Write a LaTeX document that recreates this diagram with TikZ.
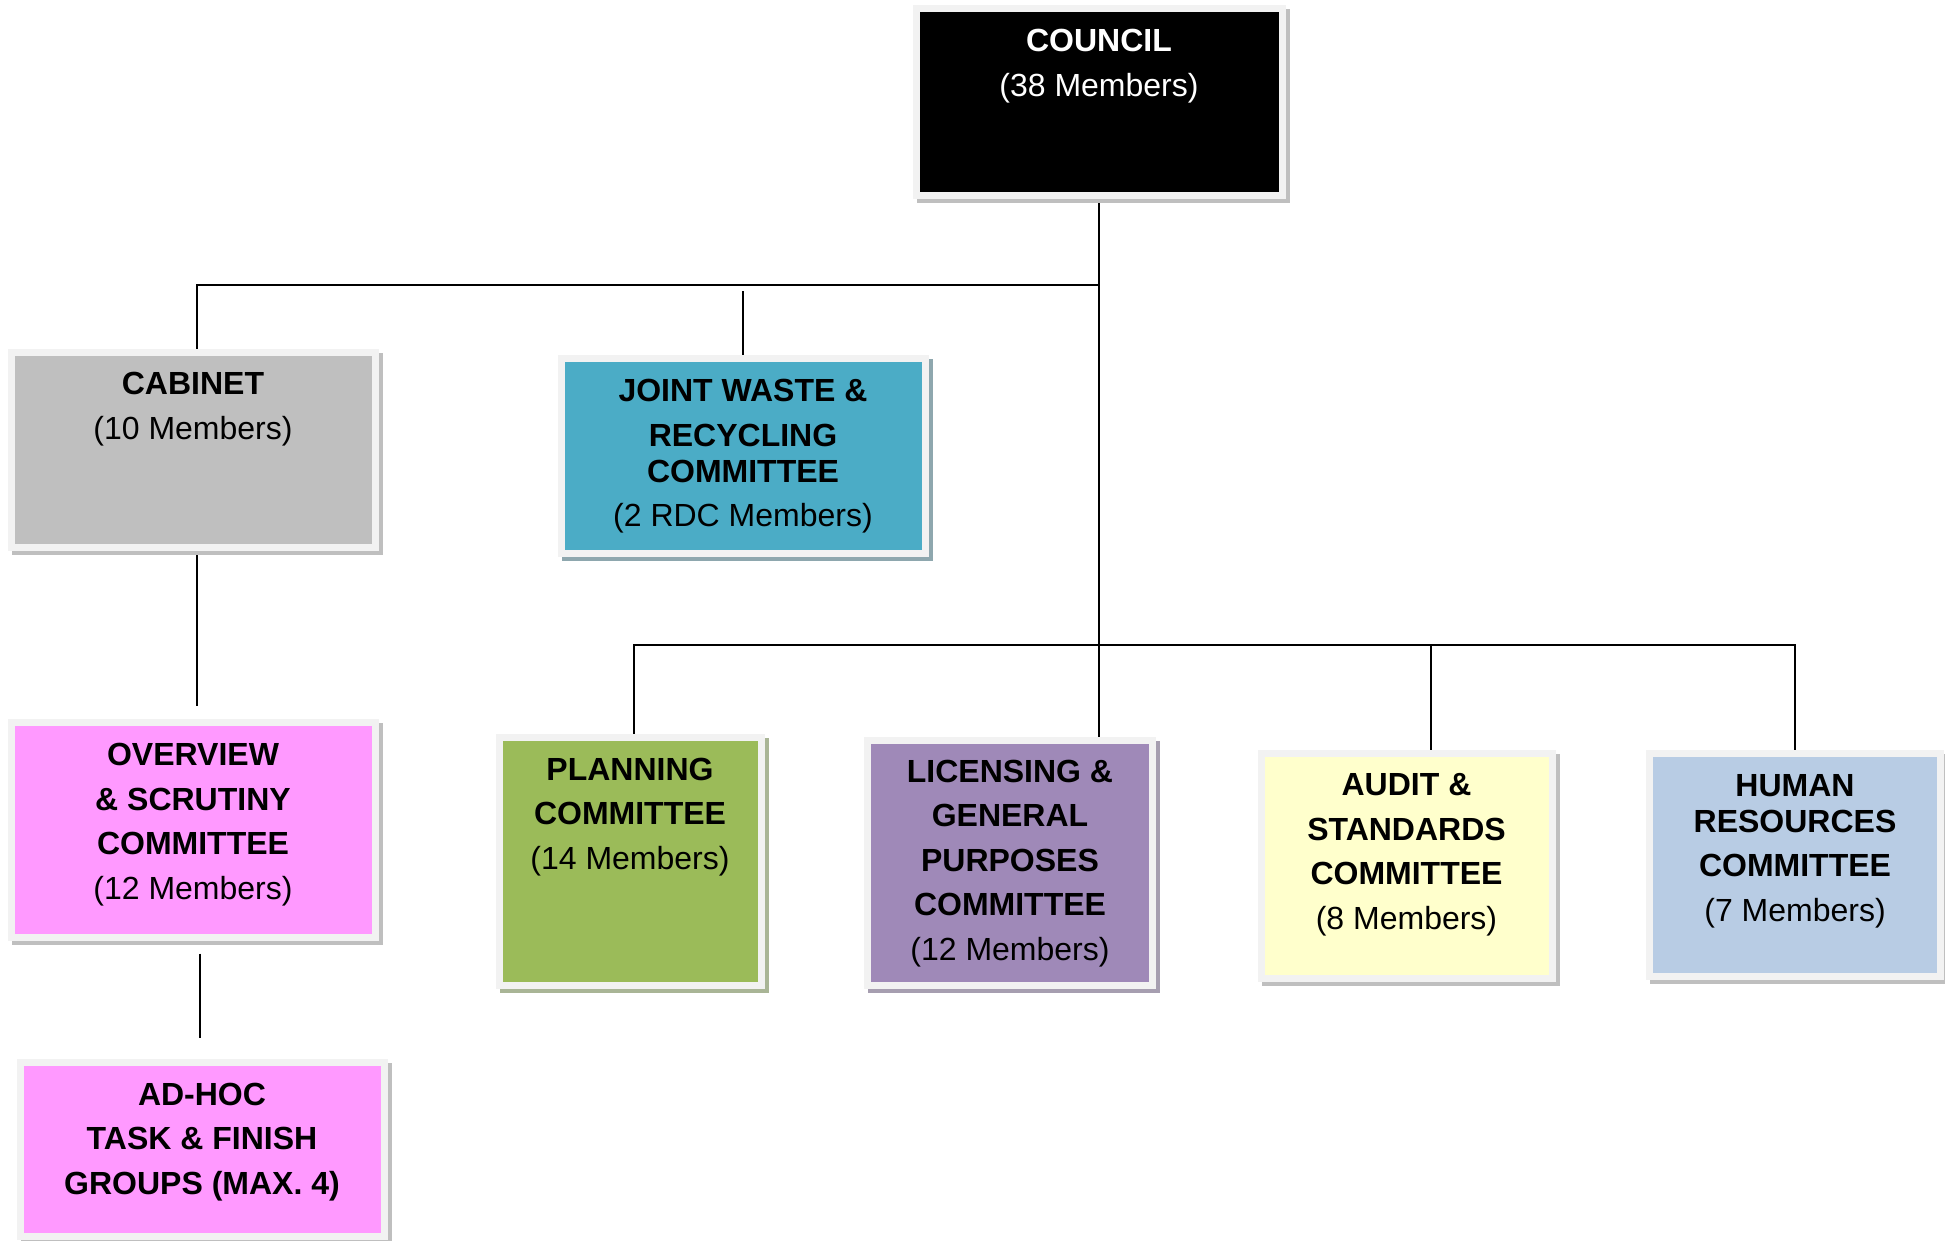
\documentclass[tikz,border=0pt]{standalone}
\usepackage{fontspec}
\setmainfont{Liberation Sans}
\usetikzlibrary{backgrounds}

\definecolor{cadre}{HTML}{F2F2F2}
\definecolor{ombre}{HTML}{BFBFBF}
\definecolor{ombreJW}{HTML}{8EA7AE}
\definecolor{ombrePL}{HTML}{A9B596}
\definecolor{ombreLI}{HTML}{A69EB0}
\definecolor{gris}{HTML}{BFBFBF}
\definecolor{turquoise}{HTML}{4BACC6}
\definecolor{rose}{HTML}{FF99FF}
\definecolor{vert}{HTML}{9BBB59}
\definecolor{violet}{HTML}{9F89B8}
\definecolor{jaune}{HTML}{FFFFCC}
\definecolor{bleu}{HTML}{B8CCE4}

\begin{document}
\begin{tikzpicture}[x=1pt,y=-1pt,
    boite/.style={rectangle, inner sep=0pt, draw=cadre, line width=7pt,
      preaction={fill=#1, draw=#1, line width=7pt,
        transform canvas={xshift=4pt,yshift=-4pt}}},
    boite/.default=ombre,
    texte/.style={anchor=north, inner sep=0pt, align=center,
      font=\fontsize{32}{44.5}\selectfont},
    lien/.style={line width=2pt}]
   \useasboundingbox (0,0) rectangle (1945,1241);

    % Dessine le conseil
    \node[boite, fill=black, minimum width=366pt, minimum height=187pt] (council) at (1099,102) {};
    \node[texte, text=white] (council-t) at ([yshift=-24pt]council.north) {\textbf{COUNCIL}\\(38 Members)};

    % Dessine le cabinet et ses groupes
    \node[boite, fill=gris, minimum width=364pt, minimum height=195pt] (cabinet) at (193,450) {};
    \node[texte] (cabinet-t) at ([yshift=-23pt]cabinet.north) {\textbf{CABINET}\\(10 Members)};
    \node[boite, fill=rose, minimum width=364pt, minimum height=215pt] (overview) at (193,830) {};
    \node[texte] (overview-t) at ([yshift=-24pt]overview.north) {\textbf{OVERVIEW}\\\textbf{\& SCRUTINY}\\\textbf{COMMITTEE}\\(12 Members)};
    \node[boite, fill=rose, minimum width=364pt, minimum height=174pt] (adhoc) at (202,1149) {};
    \node[texte] (adhoc-t) at ([yshift=-24pt]adhoc.north) {\textbf{AD-HOC}\\\textbf{TASK \& FINISH}\\\textbf{GROUPS (MAX. 4)}};

    % Dessine le comité des déchets
    \node[boite=ombreJW, fill=turquoise, minimum width=364pt, minimum height=195pt] (jw) at (743,456) {};
    \node[texte] (jw-t) at ([yshift=-24pt]jw.north) {\textbf{JOINT WASTE \&}\\\textbf{RECYCLING}\\[-8.5pt]\textbf{COMMITTEE}\\(2 RDC Members)};

    % Dessine les comités du bas
    \node[boite=ombrePL, fill=vert, minimum width=262pt, minimum height=248pt] (planning) at (630,861) {};
    \node[texte] (planning-t) at ([yshift=-24pt]planning.north) {\textbf{PLANNING}\\\textbf{COMMITTEE}\\(14 Members)};
    \node[boite=ombreLI, fill=violet, minimum width=285pt, minimum height=245pt] (licensing) at (1010,862.5) {};
    \node[texte] (licensing-t) at ([yshift=-23pt]licensing.north) {\textbf{LICENSING \&}\\\textbf{GENERAL}\\\textbf{PURPOSES}\\\textbf{COMMITTEE}\\(12 Members)};
    \node[boite, fill=jaune, minimum width=291pt, minimum height=225pt] (audit) at (1406.5,865.5) {};
    \node[texte] (audit-t) at ([yshift=-24pt]audit.north) {\textbf{AUDIT \&}\\\textbf{STANDARDS}\\\textbf{COMMITTEE}\\(8 Members)};
    \node[boite, fill=bleu, minimum width=291pt, minimum height=223pt] (hr) at (1795,865) {};
    \node[texte] (hr-t) at ([yshift=-24pt]hr.north) {\textbf{HUMAN}\\[-8.5pt]\textbf{RESOURCES}\\\textbf{COMMITTEE}\\(7 Members)};

    % Dessine les liens
    \coordinate (bus1) at (1099,285);
    \coordinate (bus2) at (1099,645);
   \begin{scope}[on background layer]
    \draw[lien] (council.south) -- (council.south |- licensing.north);
    \draw[lien] ([xshift=4pt]cabinet.north) -- ([xshift=4pt]cabinet.north |- bus1) -- (bus1);
    \draw[lien] (jw.north) -- ([yshift=-6pt]jw.north |- bus1);
    \draw[lien, shorten >=13pt] ([xshift=4pt]cabinet.south) -- ([xshift=4pt]overview.north);
    \draw[lien, shorten <=12.5pt, shorten >=21pt] ([xshift=7pt]overview.south) -- ([xshift=-2pt]adhoc.north);
    \draw[lien] ([xshift=4pt]planning.north) -- ([xshift=4pt]planning.north |- bus2) -- (hr.north |- bus2) -- (hr.north);
    \draw[lien] ([xshift=24.5pt]audit.north) -- ([xshift=24.5pt]audit.north |- bus2);
   \end{scope}

\end{tikzpicture}
\end{document}
